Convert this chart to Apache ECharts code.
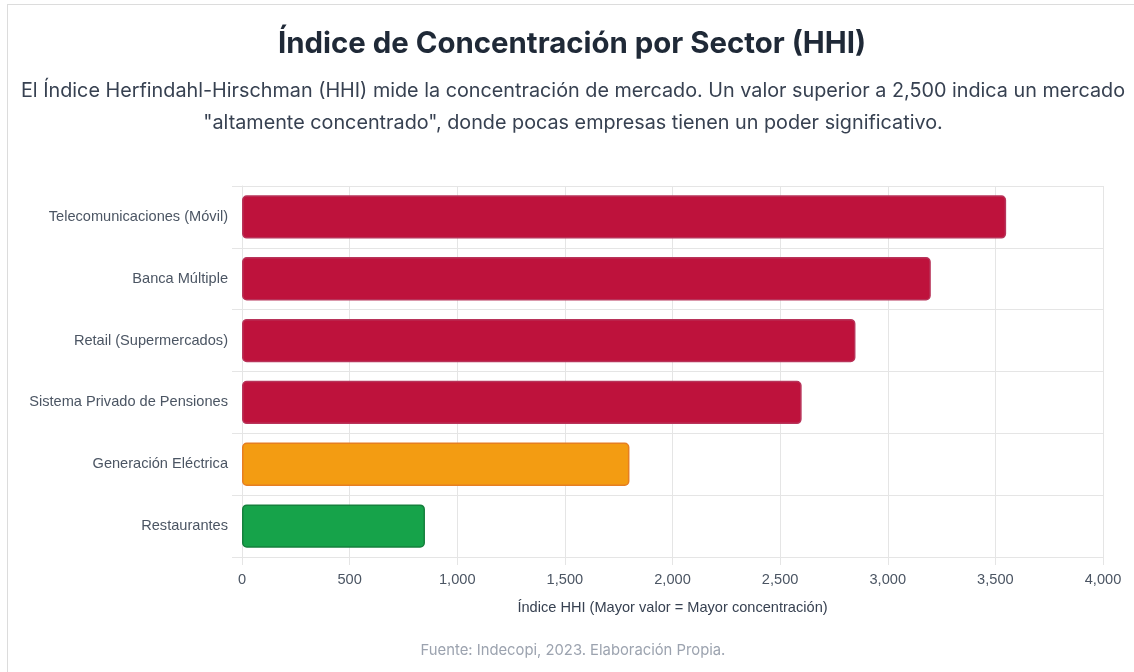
<!DOCTYPE html>
<html>
<head>
<meta charset="utf-8">
<script src="https://cdn.jsdelivr.net/npm/echarts@6/dist/echarts.min.js"></script>
<style>
  html, body { margin: 0; padding: 0; background: #fff; }
  body { width: 1134px; height: 672px; position: relative; overflow: hidden; font-family: Inter, "Noto Sans", sans-serif; }
  .card { position: absolute; left: 7px; top: 4px; width: 1140px; height: 700px; border: 1px solid #dcdcdc; box-sizing: border-box; }
  h1 { position: absolute; left: 0; width: 1144px; top: 25px; margin: 0; text-align: center; font-size: 29.4px; font-weight: 700; color: #1f2937; }
  p.sub { position: absolute; left: 0; width: 1146px; top: 74px; margin: 0; text-align: center; font-size: 19.8px; line-height: 32px; color: #374151; white-space: nowrap; }
  #chart { position: absolute; left: 0; top: 0; width: 1134px; height: 672px; }
  .foot { position: absolute; left: 0; width: 1146px; top: 641px; text-align: center; font-size: 14.8px; color: #9ca3af; }
</style>
</head>
<body>
<div class="card"></div>
<div id="chart"></div>
<h1>Índice de Concentración por Sector (HHI)</h1>
<p class="sub">El Índice Herfindahl-Hirschman (HHI) mide la concentración de mercado. Un valor superior a 2,500 indica un mercado<br>"altamente concentrado", donde pocas empresas tienen un poder significativo.</p>
<div class="foot">Fuente: Indecopi, 2023. Elaboración Propia.</div>
<script>
var sectores = ['Telecomunicaciones (Móvil)', 'Banca Múltiple', 'Retail (Supermercados)', 'Sistema Privado de Pensiones', 'Generación Eléctrica', 'Restaurantes'];
var hhi = [3550, 3200, 2850, 2600, 1800, 850];
var relleno = ['#be123c', '#be123c', '#be123c', '#be123c', '#f39c12', '#16a34a'];
var borde = ['#b8345a', '#b8345a', '#b8345a', '#b8345a', '#e67e22', '#15803d'];

var chart = echarts.init(document.getElementById('chart'));
var font = '"Liberation Sans", Arial, sans-serif';

var datos = hhi.map(function (v, i) {
    return {
        value: v,
        itemStyle: { color: relleno[i], borderColor: borde[i], borderWidth: 1.5, borderRadius: 4 }
    };
});

chart.setOption({
    animation: false,
    grid: { left: 242, right: 31, top: 186, bottom: 115 },
    xAxis: {
        type: 'value',
        min: 0,
        max: 4000,
        interval: 500,
        axisLine: { show: false },
        axisTick: { show: true, length: 8, lineStyle: { color: '#e5e5e5' } },
        splitLine: { show: true, lineStyle: { color: '#e5e5e5' } },
        axisLabel: {
            color: '#4b5563', fontFamily: font, fontSize: 14.6, margin: 15,
            formatter: function (v) { return v.toLocaleString('en-US'); }
        },
        name: 'Índice HHI (Mayor valor = Mayor concentración)',
        nameLocation: 'middle',
        nameGap: 43,
        nameTextStyle: { color: '#374151', fontFamily: font, fontSize: 14.6 }
    },
    yAxis: {
        type: 'category',
        data: sectores,
        inverse: true,
        axisLine: { show: true, lineStyle: { color: '#e5e5e5' } },
        axisTick: { show: true, length: 10, lineStyle: { color: '#e5e5e5' } },
        splitLine: { show: true, lineStyle: { color: '#e5e5e5' } },
        axisLabel: { color: '#4b5563', fontFamily: font, fontSize: 14.6, margin: 14 }
    },
    series: [{
        type: 'bar',
        data: datos,
        barCategoryGap: '30%'
    }]
});
</script>
</body>
</html>
